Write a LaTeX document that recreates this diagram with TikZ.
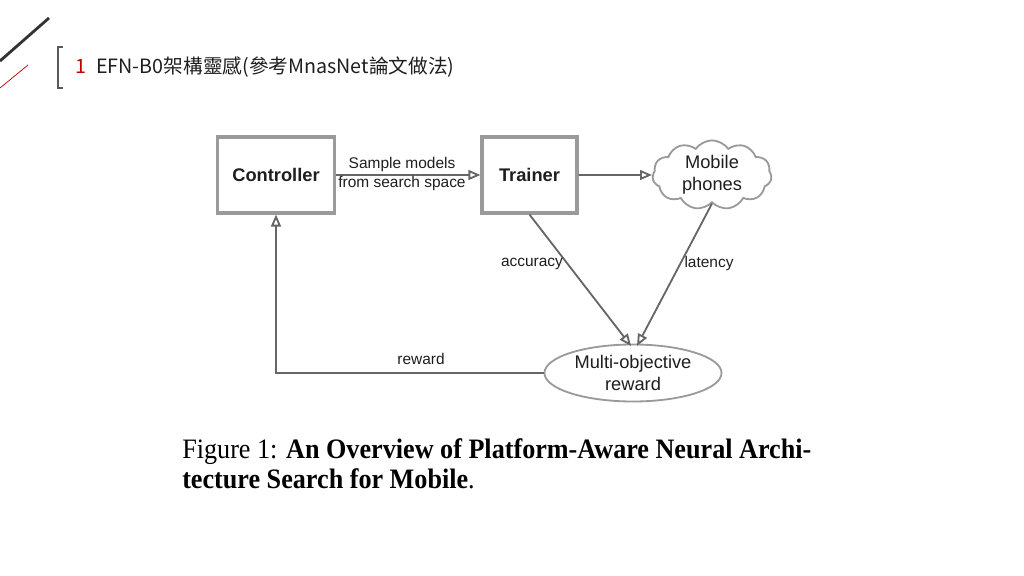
\documentclass[tikz,border=0pt]{standalone}
\usepackage{fontspec}
\setmainfont{Liberation Sans}
\newfontfamily\cjkfont{Noto Sans CJK TC}
\newfontfamily\capfont[FakeStretch=0.93]{Liberation Serif}
\usetikzlibrary{arrows.meta,shapes.geometric,shapes.symbols}
\definecolor{boxgray}{HTML}{9A9A9A}
\definecolor{linegray}{HTML}{666666}
\definecolor{titlered}{HTML}{C00000}
\definecolor{inkgray}{HTML}{1E1E1E}

\begin{document}
\begin{tikzpicture}[x=0.025cm, y=-0.025cm,
    box/.style={draw=boxgray, line width=2.2pt, minimum height=1.9cm, text=inkgray,
        font=\fontsize{13}{15}\selectfont\bfseries},
    flow/.style={draw=linegray, line width=1.3pt,
        -{Triangle[open, length=8.5pt, width=7pt]}},
    lbl/.style={text=inkgray, font=\fontsize{11}{14}\selectfont},
    bubble/.style={draw=boxgray, line width=1.3pt, text=inkgray, align=center,
        inner sep=0pt, font=\fontsize{13}{16}\selectfont},
    plain/.style={inner sep=0pt, anchor=base west}]
    \useasboundingbox (0,0) rectangle (1024,576);
    % slide header
    \draw[line width=2pt, black!80] (0,61) -- (49,18);
    \draw[line width=0.5pt, red!70!black] (0,88) -- (28,65);
    \draw[line width=0.8pt, black!65] (63,47) -- (58,47) -- (58,88) -- (63,88);
    \node[plain, text=titlered, font=\cjkfont\fontsize{14}{16}\selectfont] (secNum) at (75,74) {1};
    \node[plain, text=inkgray, font=\cjkfont\fontsize{14}{16}\selectfont] (secTitle) at (96,74)
        {EFN-B0架構靈感(參考MnasNet論文做法)};
    % diagram
    \node[box, minimum width=2.925cm] (ctrl) at (276,175) {Controller};
    \node[box, minimum width=2.375cm] (trainer) at (529.5,175) {Trainer};
    \node[bubble, cloud, cloud puffs=11, cloud puff arc=110, aspect=1.9,
        minimum width=2.975cm, minimum height=1.575cm] (phones) at (712,175) {Mobile\\phones};
    \node[bubble, ellipse, minimum width=4.425cm, minimum height=1.425cm] (goal) at (633,373)
        {Multi-objective\\reward};
    \coordinate (accTip) at ([xshift=-0.05cm, yshift=-0.06cm]goal.north);
    \coordinate (latTip) at ([xshift=0.1cm, yshift=-0.06cm]goal.north);
    \draw[flow] (ctrl) -- (trainer);
    \node[lbl, align=center] (sampleLbl) at (402,174) {Sample models\\from search space};
    \draw[flow] (trainer) -- (phones);
    \draw[flow] (trainer.south) -- (accTip);
    \draw[flow] (phones.south) -- (latTip);
    \draw[flow] (goal.west) -| (ctrl.south);
    \node[lbl] (accLbl) at (532,264) {accuracy};
    \node[lbl] (latLbl) at (709,264) {latency};
    \node[lbl] (rewLbl) at (421,359) {reward};
    % caption
    \node[plain, text=black, font=\capfont\fontsize{20}{24}\selectfont] (capA) at (182,458)
        {Figure 1: \textbf{An Overview of Platform-Aware Neural Archi-}};
    \node[plain, text=black, font=\capfont\fontsize{20}{24}\selectfont] (capB) at (182,488)
        {\textbf{tecture Search for Mobile}.};
\end{tikzpicture}
\end{document}
